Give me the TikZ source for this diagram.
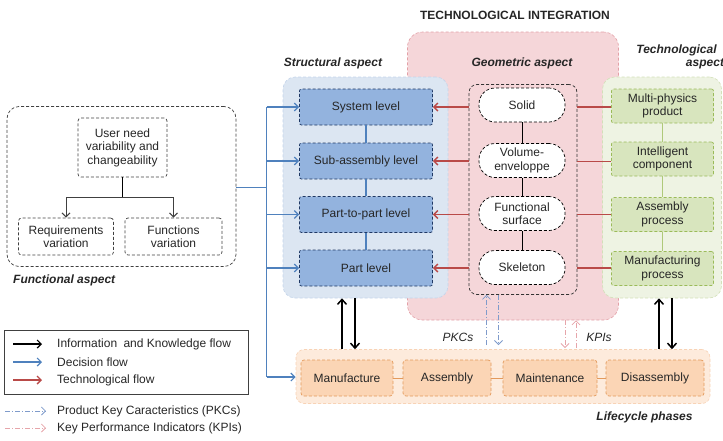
\documentclass[tikz,border=0pt]{standalone}
\usepackage{fontspec}
\setmainfont{Liberation Sans}
\usetikzlibrary{arrows.meta}
\definecolor{txt}{HTML}{262626}
\definecolor{pinkfill}{HTML}{F5D6D9}
\definecolor{pinkedge}{HTML}{E3A0A7}
\definecolor{bluereg}{HTML}{DCE6F2}
\definecolor{bluerege}{HTML}{C3D4EA}
\definecolor{boxblue}{HTML}{93B3DE}
\definecolor{navy}{HTML}{1F3864}
\definecolor{greenreg}{HTML}{EEF3E3}
\definecolor{greenrege}{HTML}{D2E0B8}
\definecolor{boxgreen}{HTML}{D8E5BE}
\definecolor{greenedge}{HTML}{9BBB59}
\definecolor{peachreg}{HTML}{FDEBDC}
\definecolor{peachrege}{HTML}{F8D3B6}
\definecolor{boxpeach}{HTML}{FBD5B5}
\definecolor{orangeedge}{HTML}{E39A5C}
\definecolor{redflow}{HTML}{B94A48}
\definecolor{blueflow}{HTML}{4F81BD}
\definecolor{pkc}{HTML}{7F9BCB}
\definecolor{kpi}{HTML}{E6A5AA}
\definecolor{grayedge}{HTML}{404040}
\begin{document}
\begin{tikzpicture}[x=1pt,y=-1pt,
  every node/.style={font=\fontsize{12}{13.5}\selectfont, text=txt, inner sep=0pt, align=center},
  smalldash/.style={dash pattern=on 3pt off 2pt},
  region/.style={rounded corners=12pt, smalldash, line width=0.6pt},
  bluebox/.style={draw=navy, fill=boxblue, smalldash, line width=0.7pt, minimum width=133pt, minimum height=36pt, rounded corners=2pt},
  greenbox/.style={draw=greenedge, fill=boxgreen, smalldash, line width=0.7pt, minimum width=102pt, minimum height=34pt, rounded corners=2pt},
  peachbox/.style={draw=orangeedge, fill=boxpeach, smalldash, line width=0.7pt, minimum height=36pt, rounded corners=3pt},
  capsule/.style={draw=black, fill=white, smalldash, line width=0.7pt, minimum width=86pt, minimum height=34pt, rounded corners=16pt},
  fbox/.style={draw=grayedge, smalldash, line width=0.7pt, rounded corners=3pt},
  aspect/.style={font=\fontsize{12}{13.5}\selectfont\bfseries\itshape},
  tip/.style={-{Straight Barb[length=4pt,width=8pt]}},
  bflow/.style={blueflow, line width=1.2pt, tip},
  rflow/.style={redflow, line width=1.4pt, tip},
  kflow/.style={black, line width=1.5pt, -{Straight Barb[length=5pt,width=9pt]}},
  pkcflow/.style={pkc, line width=0.8pt, dash pattern=on 5pt off 2pt on 1pt off 2pt, tip},
  kpiflow/.style={kpi, line width=0.8pt, dash pattern=on 5pt off 2pt on 1pt off 2pt, tip}
]
\useasboundingbox (0,0) rectangle (723,440);

% title
\node[font=\fontsize{12}{13.5}\selectfont\bfseries] (title) at (515,15) {TECHNOLOGICAL INTEGRATION};

% regions
\node[region, draw=pinkedge, fill=pinkfill, minimum width=211pt, minimum height=288pt, rounded corners=15pt] (pinkreg) at (513,176) {};
\node[region, draw=bluerege, fill=bluereg, minimum width=165pt, minimum height=221pt] (bluereg) at (365.5,187.5) {};
\node[region, draw=greenrege, fill=greenreg, minimum width=119pt, minimum height=221pt] (greenreg) at (662,187.5) {};
\node[region, draw=peachrege, fill=peachreg, minimum width=414pt, minimum height=54pt, rounded corners=8pt] (lifereg) at (503,376.5) {};

% aspect labels
\node[aspect] (structlbl) at (333,63) {Structural aspect};
\node[aspect] (geomlbl) at (522,63) {Geometric aspect};
\node[aspect] (techlbl1) at (676.5,50) {Technological};
\node[aspect] (techlbl2) at (705,64) {aspect};

% geometric inner box
\node[draw=black!80, smalldash, line width=0.7pt, rounded corners=8pt, minimum width=108pt, minimum height=210pt] (geombox) at (523,189.5) {};

% capsules
\node[capsule] (solid) at (522,105) {Solid};
\node[capsule] (volume) at (522,160.5) {Volume-\\enveloppe};
\node[capsule] (funcsurf) at (522,213.5) {Functional\\surface};
\node[capsule] (skeleton) at (522,267.5) {Skeleton};
\draw[black, line width=0.8pt] (solid) -- (volume) (volume) -- (funcsurf) (funcsurf) -- (skeleton);

% blue boxes
\node[bluebox] (system) at (366,107) {System level};
\node[bluebox] (subasm) at (366,161) {Sub-assembly level};
\node[bluebox] (p2p) at (366,214.5) {Part-to-part level};
\node[bluebox] (part) at (366,268) {Part level};
\draw[blueflow, line width=1.2pt] (system) -- (subasm) (subasm) -- (p2p) (p2p) -- (part);

% green boxes
\node[greenbox] (multi) at (662.5,106) {Multi-physics\\product};
\node[greenbox] (intel) at (662.5,159) {Intelligent\\component};
\node[greenbox] (asmproc) at (662.5,214.5) {Assembly\\process};
\node[greenbox] (manproc) at (662.5,268.5) {Manufacturing\\process};
\draw[greenedge!80, line width=1.2pt] (multi) -- (intel) (intel) -- (asmproc) (asmproc) -- (manproc);

% technological flow
\foreach \n/\y in {system/107, subasm/161, p2p/214.5, part/268}{
  \draw[rflow] (geombox.west |- 0,\y) -- (\n.east);
}
\foreach \n/\y in {multi/107, intel/161.5, asmproc/214.5, manproc/268}{
  \draw[redflow, line width=1.4pt] (\n.west |- 0,\y) -- (geombox.east |- 0,\y);
}

% functional aspect
\node[draw=grayedge, smalldash, line width=0.7pt, rounded corners=12pt, minimum width=229pt, minimum height=160pt] (funcreg) at (121.5,186.5) {};
\node[fbox, minimum width=89pt, minimum height=59pt] (userneed) at (122.5,147.5) {User need\\variability and\\changeability};
\node[fbox, minimum width=95pt, minimum height=37pt] (reqvar) at (66,236.5) {Requirements\\variation};
\node[fbox, minimum width=97pt, minimum height=37pt] (funcvar) at (173.5,236.5) {Functions\\variation};
\coordinate (tj) at (122.5,197.5);
\draw[black, line width=1pt] (userneed.south) -- (tj);
\draw[grayedge, line width=1pt, tip] (tj) -| (reqvar.north);
\draw[grayedge, line width=1pt, tip] (tj) -| (funcvar.north);
\node[aspect, anchor=west] (funclbl) at (13,280) {Functional aspect};

% decision flow
\coordinate (dj) at (266.5,187.5);
\coordinate (dtop) at (266.5,107);
\coordinate (dbot) at (266.5,377);
\draw[blueflow, line width=1.2pt] (funcreg.east |- dj) -- (dj);
\draw[blueflow, line width=1.2pt] (dtop) -- (dbot);
\foreach \n in {system, subasm, p2p, part}{
  \draw[bflow] (dtop |- \n.west) -- (\n.west);
}
\draw[bflow] (dbot) -- (lifereg.west |- dbot);

% lifecycle boxes
\node[peachbox, minimum width=92pt] (manuf) at (347,378) {Manufacture};
\node[peachbox, minimum width=88pt] (assembly) at (447,378) {Assembly};
\node[peachbox, minimum width=94pt] (maint) at (550,378) {Maintenance};
\node[peachbox, minimum width=98pt] (disasm) at (655,378) {Disassembly};
\draw[orangeedge, line width=1pt] (manuf) -- (assembly) (assembly) -- (maint) (maint) -- (disasm);
\node[aspect] (lifelbl) at (644.5,417) {Lifecycle phases};

% information & knowledge flows
\draw[kflow] (lifereg.north -| 342,0) -- (bluereg.south -| 342,0);
\draw[kflow] (bluereg.south -| 355,0) -- (lifereg.north -| 355,0);
\draw[kflow] (lifereg.north -| 659,0) -- (greenreg.south -| 659,0);
\draw[kflow] (greenreg.south -| 672,0) -- (lifereg.north -| 672,0);

% PKC and KPI
\draw[pkcflow] (486.5,345) -- (geombox.south -| 486.5,0);
\draw[pkcflow] (geombox.south -| 498.5,0) -- (498.5,345);
\node[font=\fontsize{12}{13.5}\selectfont\itshape] (pkclbl) at (458,337) {PKCs};
\draw[kpiflow] (pinkreg.south -| 565,0) -- (565,348);
\draw[kpiflow] (576,348) -- (pinkreg.south -| 576,0);
\node[font=\fontsize{12}{13.5}\selectfont\itshape] (kpilbl) at (599,337) {KPIs};

% legend
\node[draw=grayedge, line width=1pt, minimum width=244pt, minimum height=64pt] (legend) at (126,362) {};
\coordinate (l1a) at (13,344); \coordinate (l1b) at (42,344);
\coordinate (l2a) at (13,362); \coordinate (l2b) at (42,362);
\coordinate (l3a) at (13,380); \coordinate (l3b) at (42,380);
\draw[black, line width=1.2pt, -{Straight Barb[length=4pt,width=8pt]}] (l1a) -- (l1b);
\draw[bflow] (l2a) -- (l2b);
\draw[rflow] (l3a) -- (l3b);
\node[anchor=west] (lt1) at (57,344) {Information\hspace{3pt} and Knowledge flow};
\node[anchor=west] (lt2) at (57,362) {Decision flow};
\node[anchor=west] (lt3) at (57,380) {Technological flow};
\coordinate (l4a) at (5,411); \coordinate (l4b) at (46,411);
\coordinate (l5a) at (5,428); \coordinate (l5b) at (46,428);
\draw[pkcflow] (l4a) -- (l4b);
\draw[kpiflow] (l5a) -- (l5b);
\node[anchor=west] (lt4) at (57,411) {Product Key Caracteristics (PKCs)};
\node[anchor=west] (lt5) at (57,428) {Key Performance Indicators (KPIs)};
\end{tikzpicture}
\end{document}
